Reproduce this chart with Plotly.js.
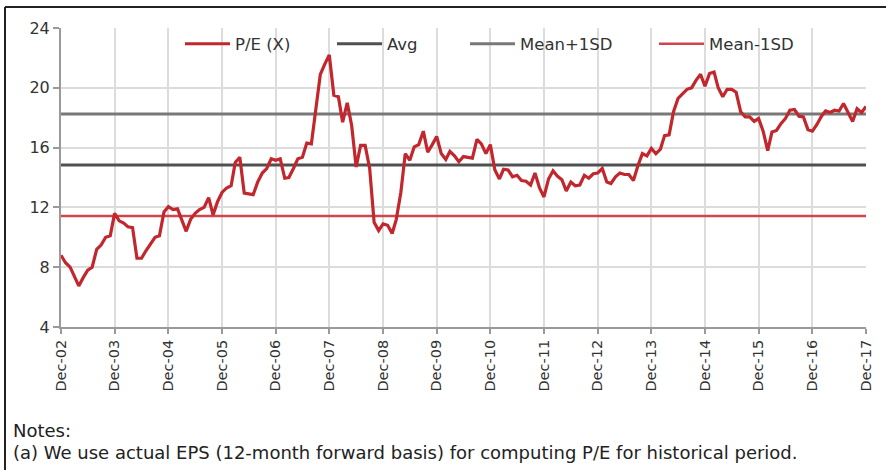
<!DOCTYPE html>
<html>
<head>
<meta charset="utf-8">
<script src="https://cdn.plot.ly/plotly-3.0.1.min.js"></script>
<style>html,body{margin:0;padding:0;background:#fff;}#chart{width:893px;height:470px;}</style>
</head>
<body>
<div id="chart"></div>
<script>
// ---- data ----
var startYear = 2002, startMonth = 12; // first point: Dec-02, monthly to Dec-17
var peValues = [
  8.8, 8.3, 8.0, 7.35, 6.75, 7.3, 7.8, 8.0, 9.2, 9.5, 10.0, 10.1, 11.6,
  11.1, 10.95, 10.7, 10.65, 8.6, 8.6, 9.1, 9.6, 10.0, 10.1, 11.7, 12.05,
  11.85, 11.9, 11.2, 10.4, 11.2, 11.6, 11.85, 12.0, 12.65, 11.5, 12.4, 13.0,
  13.3, 13.45, 15.0, 15.35, 12.95, 12.9, 12.85, 13.7, 14.3, 14.6, 15.25, 15.15,
  15.25, 13.95, 14.0, 14.6, 15.25, 15.35, 16.3, 16.25, 18.7, 20.9, 21.6, 22.2,
  19.5, 19.4, 17.7, 19.0, 17.5, 14.7, 16.15, 16.15, 14.6, 11.0, 10.45, 10.9,
  10.8, 10.25, 11.2, 13.0, 15.6, 15.15, 16.05, 16.2, 17.1, 15.7, 16.2, 16.75,
  15.6, 15.2, 15.75, 15.45, 15.05, 15.4, 15.35, 15.3, 16.55, 16.25, 15.6, 16.2,
  14.5, 13.9, 14.55, 14.5, 14.05, 14.15, 13.8, 13.75, 13.5, 14.3, 13.3, 12.7,
  13.9, 14.45, 14.1, 13.85, 13.1, 13.7, 13.45, 13.5, 14.15, 13.95, 14.25, 14.3,
  14.6, 13.7, 13.6, 14.05, 14.3, 14.2, 14.2, 13.8, 14.8, 15.6, 15.45, 15.95,
  15.6, 15.9, 16.8, 16.85, 18.4, 19.3, 19.6, 19.9, 20.0, 20.5, 20.9, 20.1,
  20.95, 21.05, 20.0, 19.4, 19.9, 19.9, 19.7, 18.4, 18.05, 18.05, 17.75, 17.95,
  17.1, 15.8, 17.05, 17.15, 17.6, 17.95, 18.5, 18.55, 18.1, 18.05, 17.2, 17.1,
  17.55, 18.1, 18.45, 18.35, 18.5, 18.45, 18.95, 18.4, 17.75, 18.6, 18.35, 18.75
];
var avgValue = 14.84;
var plusSDValue = 18.25;
var minusSDValue = 11.42;
var seriesNames = ["P/E (X)", "Avg", "Mean+1SD", "Mean-1SD"];
var yTicks = [4, 8, 12, 16, 20, 24];
var tickYears = [];
for (var yy = 2002; yy <= 2017; yy++) tickYears.push(yy);
var tickVals = tickYears.map(function(y){ return y + "-12-01"; });
var tickText = tickYears.map(function(y){ return "Dec-" + String(y).slice(2); });
var notesTitle = "Notes:";
var notesText = "(a) We use actual EPS (12-month forward basis) for computing P/E for historical period.";

// monthly dates
var dates = [];
for (var i = 0; i < peValues.length; i++) {
  var m = startMonth - 1 + i;
  var y = startYear + Math.floor(m / 12);
  var mm = (m % 12) + 1;
  dates.push(y + "-" + (mm < 10 ? "0" + mm : mm) + "-01");
}
var xEnds = [dates[0], dates[dates.length - 1]];

// ---- pixel helpers for layout (plot area 61..866 x 28..327) ----
var L = 61, R = 866, T = 28, B = 327;
function px(x){ return (x - L) / (R - L); }
function py(y){ return (B - y) / (B - T); }

var font = "DejaVu Sans, Open Sans, sans-serif";

var traces = [
  {x: xEnds, y: [avgValue, avgValue], name: seriesNames[1], mode: "lines",
   line: {color: "#505050", width: 3}, legend: "legend2", hoverinfo: "skip"},
  {x: xEnds, y: [plusSDValue, plusSDValue], name: seriesNames[2], mode: "lines",
   line: {color: "#787878", width: 3}, legend: "legend3", hoverinfo: "skip"},
  {x: xEnds, y: [minusSDValue, minusSDValue], name: seriesNames[3], mode: "lines",
   line: {color: "#d0454b", width: 2.5}, legend: "legend4", hoverinfo: "skip"},
  {x: dates, y: peValues, name: seriesNames[0], mode: "lines",
   line: {color: "#c1272d", width: 3.2}, legend: "legend"}
];

function leg(xp){
  return {x: px(xp), xanchor: "left", y: py(44), yanchor: "middle",
    orientation: "h", bgcolor: "rgba(0,0,0,0)", borderwidth: 0,
    itemwidth: 45, font: {family: font, size: 16.5, color: "#333"}};
}

var layout = {
  width: 893, height: 470,
  margin: {l: L, r: 893 - R, t: T, b: 470 - B},
  paper_bgcolor: "#fff", plot_bgcolor: "#fff",
  showlegend: true,
  legend: leg(180), legend2: leg(332), legend3: leg(465), legend4: leg(654),
  xaxis: {
    type: "date", range: [dates[0], dates[dates.length - 1]],
    tickvals: tickVals, ticktext: tickText, tickangle: -90,
    showgrid: true, gridcolor: "#dcdcdc", gridwidth: 2,
    showline: true, linecolor: "#9a9a9a", linewidth: 2,
    ticks: "outside", ticklen: 5, tickwidth: 2, tickcolor: "#9a9a9a",
    tickfont: {family: font, size: 14.5, color: "#333"},
    zeroline: false, fixedrange: true
  },
  yaxis: {
    range: [4, 24], tickvals: yTicks, ticktext: yTicks.map(String),
    showgrid: true, gridcolor: "#dcdcdc", gridwidth: 2,
    showline: true, linecolor: "#9a9a9a", linewidth: 2,
    ticks: "outside", ticklen: 6, tickwidth: 2, tickcolor: "#9a9a9a",
    tickfont: {family: font, size: 16, color: "#333"},
    zeroline: false, fixedrange: true
  },
  shapes: [
    {type: "rect", xref: "paper", yref: "paper", x0: px(150), x1: px(825), y0: py(54), y1: py(33),
     fillcolor: "#fff", line: {width: 0}, layer: "between"},
    {type: "line", xref: "paper", yref: "paper", x0: px(5), x1: px(886), y0: py(7), y1: py(7),
     line: {color: "#222", width: 2}},
    {type: "line", xref: "paper", yref: "paper", x0: px(5), x1: px(5), y0: py(7), y1: py(470),
     line: {color: "#222", width: 2}}
  ],
  annotations: [
    {xref: "paper", yref: "paper", x: px(11), y: py(430), xanchor: "left", yanchor: "middle",
     align: "left", showarrow: false, text: notesTitle,
     font: {family: font, size: 18, color: "#222"}},
    {xref: "paper", yref: "paper", x: px(11), y: py(452), xanchor: "left", yanchor: "middle",
     align: "left", showarrow: false, text: notesText,
     font: {family: font, size: 18, color: "#222"}}
  ]
};

Plotly.newPlot("chart", traces, layout, {displayModeBar: false, staticPlot: true});
</script>
</body>
</html>
